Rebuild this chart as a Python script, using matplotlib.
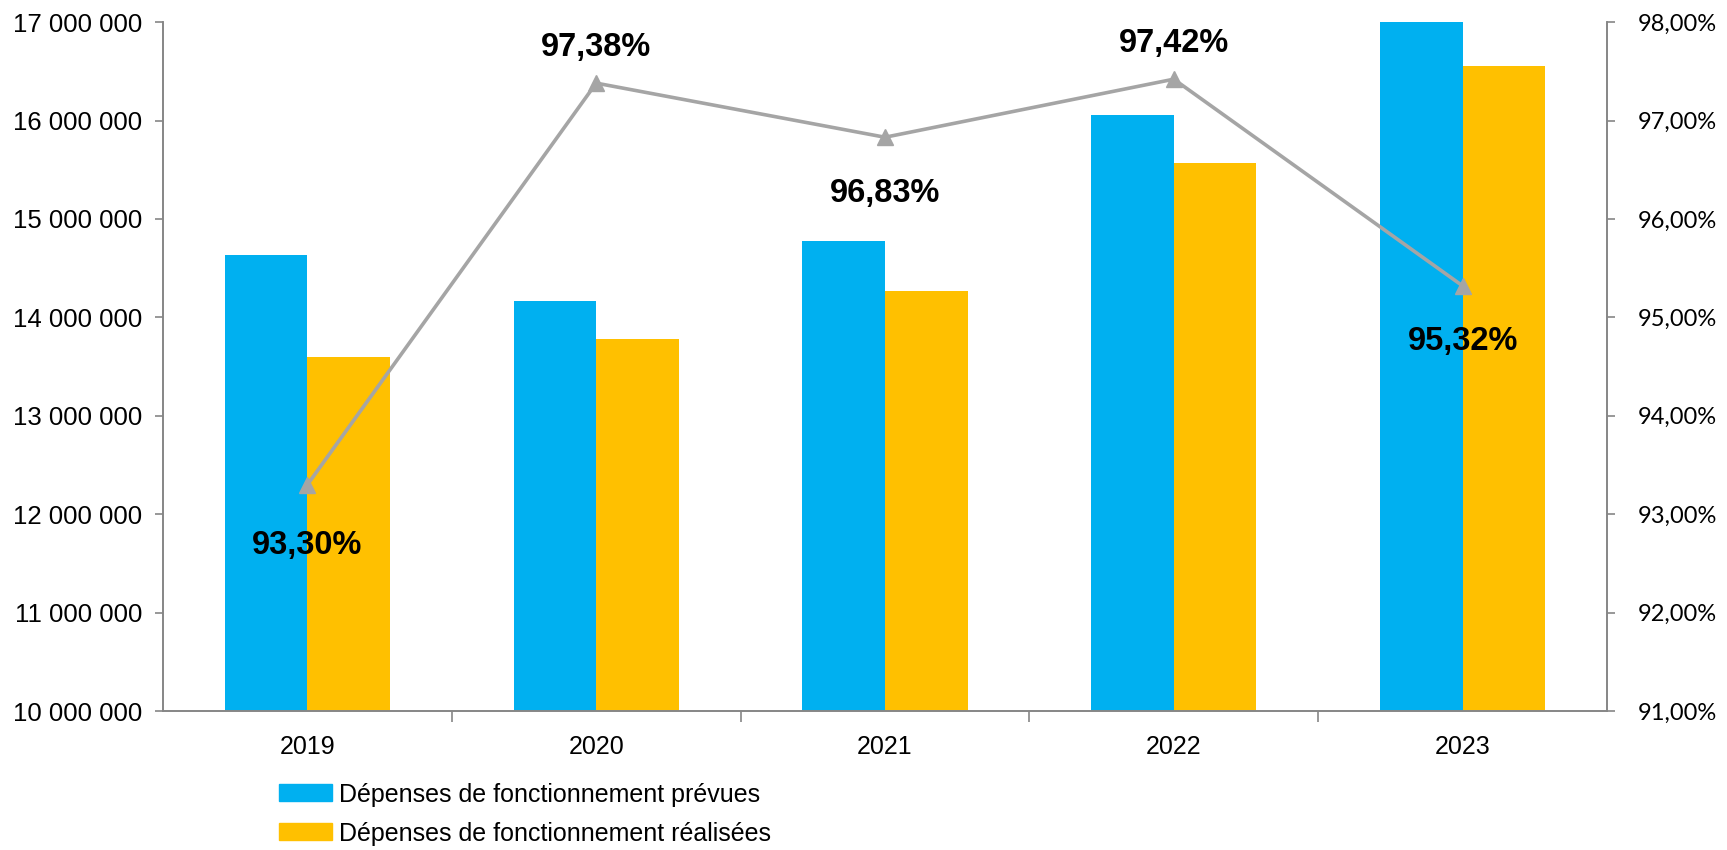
import matplotlib
matplotlib.use("Agg")
import matplotlib.pyplot as plt
from matplotlib import font_manager
from matplotlib.patches import Patch
from matplotlib.ticker import FuncFormatter, FixedLocator
import numpy as np

# ---------------------------------------------------------------------
# Data
# ---------------------------------------------------------------------
years = ["2019", "2020", "2021", "2022", "2023"]
prevues = [14_637_000, 14_162_000, 14_772_000, 16_057_000, 17_365_000]
realisees = [13_599_000, 13_778_000, 14_264_000, 15_569_000, 16_552_000]
taux = [93.30, 97.38, 96.83, 97.42, 95.32]
label_above = [False, True, False, True, False]

BLUE = "#00B0F0"
ORANGE = "#FFC000"
GREY_LINE = "#A5A5A5"
SPINE = "#868686"

installed = {f.name for f in font_manager.fontManager.ttflist}
NARROW = "Liberation Sans Narrow" if "Liberation Sans Narrow" in installed else "Liberation Sans"
RIGHT_FONT = "Lato" if "Lato" in installed else "DejaVu Sans"

# ---------------------------------------------------------------------
# Figure
# ---------------------------------------------------------------------
fig = plt.figure(figsize=(17.27, 8.5), dpi=100)
ax = fig.add_axes([0.0944, 0.1635, 0.8361, 0.8105])
ax2 = ax.twinx()

x = np.arange(len(years))
w = 0.286
ax.bar(x - w / 2, prevues, width=w, color=BLUE, zorder=2)
ax.bar(x + w / 2, realisees, width=w, color=ORANGE, zorder=2)

ax.set_xlim(-0.5, len(years) - 0.5)
ax.set_ylim(10_000_000, 17_000_000)
ax.set_yticks(np.arange(10_000_000, 17_000_001, 1_000_000))
ax.yaxis.set_major_formatter(FuncFormatter(lambda v, p: f"{int(v):,}".replace(",", " ")))

ax.set_xticks(x)
ax.set_xticklabels(years)
ax.xaxis.set_minor_locator(FixedLocator(np.arange(0.5, len(years) - 0.5, 1)))
ax.tick_params(axis="x", which="major", length=0, pad=17)
ax.tick_params(axis="x", which="minor", length=8, color=SPINE, width=1.2)
ax.tick_params(axis="y", length=6, color=SPINE, width=1.2, pad=9)

for lab in ax.get_xticklabels():
    lab.set_fontfamily(NARROW)
    lab.set_fontsize(18)
for lab in ax.get_yticklabels():
    lab.set_fontfamily(NARROW)
    lab.set_fontsize(18.5)

# line on secondary axis
ax2.plot(x, taux, color=GREY_LINE, lw=2.6, marker="^", markersize=11,
         markerfacecolor=GREY_LINE, markeredgecolor=GREY_LINE, zorder=3)
ax2.set_ylim(91, 98)
ax2.set_yticks(np.arange(91, 98.01, 1))
ax2.yaxis.set_major_formatter(FuncFormatter(lambda v, p: f"{v:.2f}%".replace(".", ",")))
ax2.tick_params(axis="y", length=6, color=SPINE, width=1.2, pad=16)
for lab in ax2.get_yticklabels():
    lab.set_fontfamily(RIGHT_FONT)
    lab.set_fontsize(17)

for i, (v, up) in enumerate(zip(taux, label_above)):
    dy = 36 if up else (-61 if i == 0 else -56)
    ax2.annotate(f"{v:.2f}%".replace(".", ","), (x[i], v), xytext=(0, dy),
                 textcoords="offset pixels", ha="center", va="center",
                 fontsize=23.5, fontweight="bold", fontfamily=NARROW, zorder=4)

for a in (ax, ax2):
    a.spines["top"].set_visible(False)
    for s in ("left", "right", "bottom"):
        a.spines[s].set_color(SPINE)
        a.spines[s].set_linewidth(1.2)

handles = [Patch(color=BLUE, label="Dépenses de fonctionnement prévues"),
           Patch(color=ORANGE, label="Dépenses de fonctionnement réalisées")]
fig.legend(handles=handles, loc="upper left", bbox_to_anchor=(0.1545, 0.094),
           frameon=False, borderpad=0, handlelength=2.1, handleheight=0.65,
           handletextpad=0.3, labelspacing=0.6,
           prop={"family": NARROW, "size": 18})

fig.savefig("out.png", dpi=100)
